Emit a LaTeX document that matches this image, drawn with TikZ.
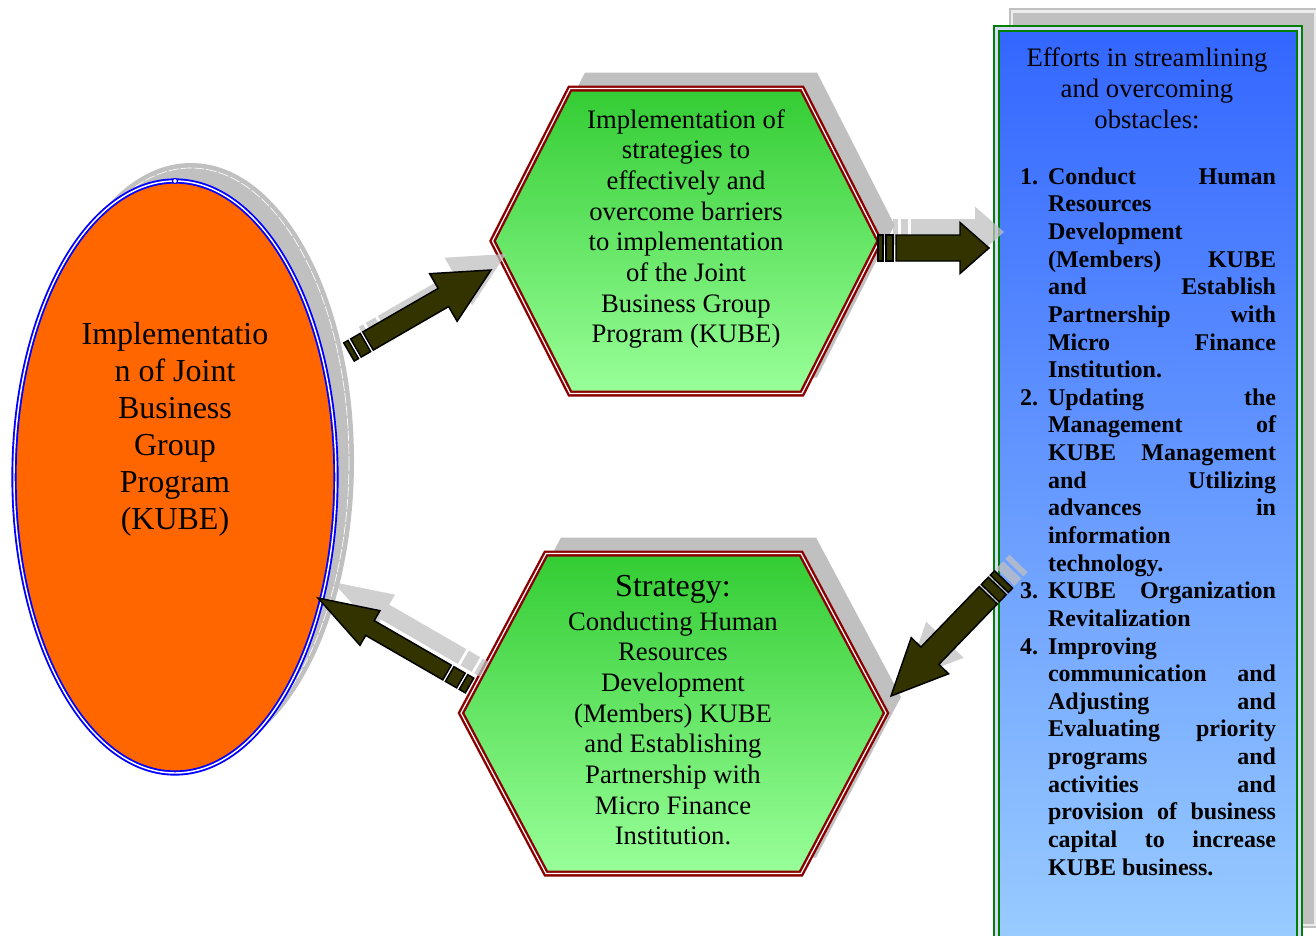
\documentclass[tikz,border=0pt]{standalone}
\usepackage{fontspec}
\setmainfont{Liberation Serif}
\definecolor{arrowfill}{HTML}{333300}
\definecolor{shadowgray}{HTML}{C0C0C0}
\definecolor{ellorange}{HTML}{FF6600}
\definecolor{hexred}{HTML}{8B0000}
\definecolor{hextop}{HTML}{33CC33}
\definecolor{hexbot}{HTML}{99FF99}
\definecolor{boxtop}{HTML}{3366FF}
\definecolor{boxbot}{HTML}{99CCFF}
\definecolor{boxgreen}{HTML}{008000}
% #1 style, #2 head length, #3 head width, #4 shaft width, #5 shaft length, #6 gap, #7 block1, #8 block2
\newcommand{\blockarr}[8]{%
  \path[#1] (0,0) -- (-#2,-#3/2) -- (-#2,-#4/2) -- (-#2-#5,-#4/2) -- (-#2-#5,#4/2) -- (-#2,#4/2) -- (-#2,#3/2) -- cycle;
  \path[#1] (-#2-#5-#6,-#4/2) rectangle (-#2-#5-#6-#7,#4/2);
  \path[#1] (-#2-#5-2*#6-#7,-#4/2) rectangle (-#2-#5-2*#6-#7-#8,#4/2);
}
\newcommand{\jline}[1]{\makebox[171pt][s]{#1}}
\newcommand{\lline}[1]{\makebox[171pt][l]{#1}}
\newcommand{\numb}[1]{\makebox[21pt][l]{#1}}
\begin{document}
\begin{tikzpicture}[x=0.75pt,y=-0.75pt,
  arrowbody/.style={fill=arrowfill,draw=black,line width=1.1pt,line join=miter},
  arrowshadow/.style={fill=shadowgray,opacity=0.75},
  hexshape/.style={draw=hexred,double=white,line width=1.8pt,double distance=0.9pt,top color=hextop,bottom color=hexbot},
  hextext/.style={align=center,font=\fontsize{20}{23}\selectfont,inner sep=0pt},
]
\useasboundingbox (0,0) rectangle (1316,935);
\clip (0,0) rectangle (1316,935);

% ellipse with shadow
\fill[shadowgray] (191,461) ellipse [x radius=163,y radius=298];
\draw[white,line width=0.5pt,dash pattern=on 8pt off 1.5pt] (191,461) ellipse [x radius=158,y radius=293];
\draw[draw=blue,double=white,line width=1.4pt,double distance=1.1pt,fill=ellorange] (175,477) ellipse [x radius=161,y radius=296];
\draw[blue,fill=white,line width=0.8pt] (175,181) circle [radius=2.5];

% hexagon shadows
\begin{scope}[shift={(15,-16)}]
\fill[shadowgray] (570,88.5) -- (802,88.5) -- (879.5,241) -- (802,393.5) -- (570,393.5) -- (492.5,241) -- cycle;
\fill[shadowgray] (546,553.5) -- (801,553.5) -- (886,713) -- (801,873.5) -- (546,873.5) -- (461,713) -- cycle;
\end{scope}
% hexagons
\path[hexshape] (570,88.5) -- (802,88.5) -- (879.5,241) -- (802,393.5) -- (570,393.5) -- (492.5,241) -- cycle;
\path[hexshape] (546,553.5) -- (801,553.5) -- (886,713) -- (801,873.5) -- (546,873.5) -- (461,713) -- cycle;

% box shadow and box
\draw[draw=shadowgray,double=white!85!gray,line width=1.5pt,double distance=2.2pt,fill=shadowgray] (1012,11.5) rectangle (1315,925);
\draw[draw=boxgreen,double=blue!15!white,line width=1.6pt,double distance=2.2pt,top color=boxtop,bottom color=boxbot] (996.5,28.5) rectangle (1299.5,943.5);

% arrow shadows
\begin{scope}[shift={(506,254)},rotate=30]\blockarr{arrowshadow}{55}{55}{21}{87}{3}{11}{5}\end{scope}
\begin{scope}[shift={(1004,232)},rotate=0]\blockarr{arrowshadow}{29}{51}{26}{64}{3}{7}{5}\end{scope}
\begin{scope}[shift={(906,680)},rotate=226]\blockarr{arrowshadow}{56}{52}{25}{84}{3}{10}{6}\end{scope}
\begin{scope}[shift={(333,582)},rotate=150]\blockarr{arrowshadow}{60}{40}{17}{89}{3}{13}{7}\end{scope}
% arrows
\begin{scope}[shift={(491,270)},rotate=30]\blockarr{arrowbody}{55}{55}{21}{87}{3}{11}{5}\end{scope}
\begin{scope}[shift={(989,248)},rotate=0]\blockarr{arrowbody}{29}{51}{26}{64}{3}{7}{5}\end{scope}
\begin{scope}[shift={(891,696)},rotate=226]\blockarr{arrowbody}{56}{52}{25}{84}{3}{10}{6}\end{scope}
\begin{scope}[shift={(318,598)},rotate=150]\blockarr{arrowbody}{60}{40}{17}{89}{3}{13}{7}\end{scope}

% texts
\node[align=center,font=\fontsize{24}{27.7}\selectfont,inner sep=0pt] (elltext) at (175,429)
  {Implementatio\\n of Joint\\Business\\Group\\Program\\(KUBE)};
\node[hextext] (h1text) at (686,229)
  {Implementation of\\strategies to\\effectively and\\overcome barriers\\to implementation\\of the Joint\\Business Group\\Program (KUBE)};
\node[hextext] (h2text) at (673,710)
  {{\fontsize{24}{27}\selectfont Strategy:}\\[2.5pt]Conducting Human\\Resources\\Development\\(Members) KUBE\\and Establishing\\Partnership with\\Micro Finance\\Institution.};
\node[align=center,font=\fontsize{20}{23.25}\selectfont,inner sep=0pt] (boxtitle) at (1147,88)
  {Efforts in streamlining\\and overcoming\\obstacles:};
\node[align=left,font=\fontsize{18}{20.73}\selectfont\bfseries,inner sep=0pt] (boxlist) at (1148,521.5)
  {\numb{1.}\jline{Conduct Human}\\
   \numb{}\lline{Resources}\\
   \numb{}\lline{Development}\\
   \numb{}\jline{(Members) KUBE}\\
   \numb{}\jline{and Establish}\\
   \numb{}\jline{Partnership with}\\
   \numb{}\jline{Micro Finance}\\
   \numb{}\lline{Institution.}\\
   \numb{2.}\jline{Updating the}\\
   \numb{}\jline{Management of}\\
   \numb{}\jline{KUBE Management}\\
   \numb{}\jline{and Utilizing}\\
   \numb{}\jline{advances in}\\
   \numb{}\lline{information}\\
   \numb{}\lline{technology.}\\
   \numb{3.}\jline{KUBE Organization}\\
   \numb{}\lline{Revitalization}\\
   \numb{4.}\lline{Improving}\\
   \numb{}\jline{communication and}\\
   \numb{}\jline{Adjusting and}\\
   \numb{}\jline{Evaluating priority}\\
   \numb{}\jline{programs and}\\
   \numb{}\jline{activities and}\\
   \numb{}\jline{provision of business}\\
   \numb{}\jline{capital to increase}\\
   \numb{}\lline{KUBE business.}};
\end{tikzpicture}
\end{document}
